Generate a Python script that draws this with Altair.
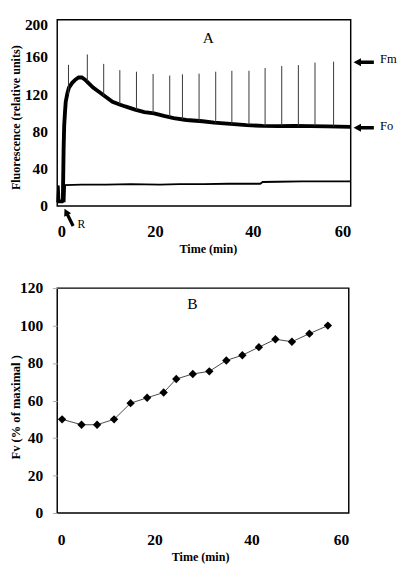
import altair as alt
import pandas as pd

SERIF = "Liberation Serif"

# ---------------- Panel A data ----------------
trace_t = [0, 0.5, 1.0, 1.15, 1.3, 1.42, 1.6, 1.74, 2.07, 2.4, 3.06, 3.71, 4.37,
           5.03, 5.69, 6.35, 7.33, 8.65, 9.96, 11.3, 12.6, 13.9, 15.9, 17.8,
           19.8, 21.8, 23.8, 26.4, 29.7, 32.1, 35.4, 38.7, 42.0, 45.2, 48.5,
           51.8, 55.1, 60]
trace_v = [5, 5, 5, 6, 60, 86, 102, 112, 121, 127.2, 132.3, 135.7, 138,
           138, 135.7, 132.3, 127.2, 122.1, 117, 112, 109.3, 106.9, 103.6, 100.8,
           99.5, 96.8, 94.4, 92.4, 91, 89.5, 88.2, 86.8, 86.1, 85.8, 86.1,
           85.8, 85.5, 85]

low_t = [0, 0.15, 0.3, 0.45, 0.6, 1.5, 1.6, 5, 10, 15, 21, 25, 30, 35, 41.5,
         42, 45, 50, 55, 60]
low_v = [4, 18, 22, 6, 5, 5, 22.5, 23, 23, 23.5, 23, 23.5, 23.5, 24, 24,
         25.8, 26, 26.5, 26.5, 26.5]

spike_t = [2.3, 6.15, 9.5, 12.8, 16.2, 19.6, 23.0, 25.6, 29.0, 32.4, 35.7,
           39.2, 42.5, 45.9, 49.3, 52.7, 56.5]
spike_base = [120, 134, 118, 109, 103, 99.5, 95.5, 93, 91, 89.5, 88, 87, 86,
              86, 86, 86, 85.5]
spike_top = [151.6, 162.7, 152.6, 145.9, 144.2, 141.8, 140.1, 141.4, 142.1,
             144.2, 145.2, 145.2, 148.2, 150.3, 151.3, 154, 155]

a_ticks_x = [0, 20, 40, 60]
a_ticks_y = [0, 40, 80, 120, 160, 200]

# annotations of panel A (data units)
arrow_labels = ["Fm", "Fo"]
arrow_label_y = [157.7, 86.3]
arrow_y = [154.3, 84.0]

# ---------------- Panel B data ----------------
b_time = [1.0, 5.0, 8.2, 11.7, 15.1, 18.5, 21.9, 24.5, 27.9, 31.3, 34.8,
          38.1, 41.5, 44.9, 48.3, 51.9, 55.7]
b_fv = [50.0, 47.1, 47.1, 50.0, 58.6, 61.5, 64.3, 71.5, 74.2, 75.6, 81.4,
        84.2, 88.5, 92.7, 91.4, 95.7, 100.0]
b_ticks_x = [0, 20, 40, 60]
b_ticks_y = [0, 20, 40, 60, 80, 100, 120]

ARROW = "M-1,0L-0.27,-0.4L-0.27,-0.17L1,-0.17L1,0.17L-0.27,0.17L-0.27,0.4Z"

HA = 193
xsA = alt.Scale(domain=[0, 60], nice=False, zero=False)
ysA = alt.Scale(domain=[0, 200], nice=False, zero=False)

df_trace = pd.DataFrame({"t": trace_t, "v": trace_v})
df_low = pd.DataFrame({"t": low_t, "v": low_v})
df_spk = pd.DataFrame({"t": spike_t, "v": spike_base, "top": spike_top})

axA_x = alt.Axis(values=a_ticks_x, title="Time (min)", ticks=False, tickSize=0,
                 domain=False, grid=False, labelFont=SERIF,
                 labelFontWeight="bold", labelFontSize=17, labelColor="black",
                 labelPadding=19, titleFont=SERIF, titleFontWeight="bold",
                 titleFontSize=12.5, titleColor="black", titleX=156, titleY=38,
                 titleAlign="center", titleBaseline="top")
axA_y = alt.Axis(values=a_ticks_y, title="Fluorescence (relative  units)",
                 ticks=False, tickSize=0, domain=False, grid=False,
                 labelFont=SERIF, labelFontWeight="bold",
                 labelFontSize=16, labelColor="black", labelPadding=10,
                 labelOffset={"condition": {"test": "datum.value == 200",
                                            "value": 5}, "value": 0},
                 titleFont=SERIF, titleFontWeight="bold", titleFontSize=12.5,
                 titleColor="black", titleX=-43.5, titleY=101,
                 titleAlign="center", titleBaseline="middle")

XA = alt.X("t:Q", scale=xsA, axis=axA_x)
YA = alt.Y("v:Q", scale=ysA, axis=axA_y)

trace = alt.Chart(df_trace).mark_line(color="black", strokeWidth=4).encode(
    x=XA, y=YA)
low = alt.Chart(df_low).mark_line(color="black", strokeWidth=2).encode(
    x=XA, y=YA)
spikes = alt.Chart(df_spk).mark_rule(color="#333", strokeWidth=1).encode(
    x=XA, y=YA, y2="top:Q")
df_lbl = pd.DataFrame({"t": [30.9], "v": [180.5], "s": ["A"]})
lblA = alt.Chart(df_lbl).mark_text(font=SERIF, fontSize=16, color="black",
                                   baseline="middle").encode(
    x=XA, y=YA, text="s:N")
df_arr = pd.DataFrame({"t": [62.66, 62.66], "v": arrow_y})
arrows = alt.Chart(df_arr).mark_point(shape=ARROW, size=441, filled=True,
                                      color="black", opacity=1).encode(
    x=XA, y=YA)
df_arrtxt = pd.DataFrame({"t": [66.0, 66.0], "v": arrow_label_y,
                          "s": arrow_labels})
arrtxt = alt.Chart(df_arrtxt).mark_text(font=SERIF, fontSize=13, color="black",
                                        align="left", baseline="middle").encode(
    x=XA, y=YA, text="s:N")
df_r = pd.DataFrame({"t": [2.37], "v": [-12.2]})
rarrow = alt.Chart(df_r).mark_point(shape=ARROW, size=400, filled=True,
                                    color="black", opacity=1,
                                    angle=63.4).encode(x=XA, y=YA)
df_rt = pd.DataFrame({"t": [4.93], "v": [-19.3], "s": ["R"]})
rtext = alt.Chart(df_rt).mark_text(font=SERIF, fontSize=12, color="black",
                                   baseline="middle").encode(
    x=XA, y=YA, text="s:N")

panelA = alt.layer(trace, low, spikes, lblA, arrows, arrtxt, rarrow,
                   rtext).properties(width=304, height=HA)

# ---------------- Panel B ----------------
xsB = alt.Scale(domain=[0, 60], nice=False, zero=False)
ysB = alt.Scale(domain=[0, 120], nice=False, zero=False)
df_b = pd.DataFrame({"t": b_time, "fv": b_fv})

axB_x = alt.Axis(values=b_ticks_x, title="Time (min)", ticks=False, tickSize=0,
                 domain=False, grid=False, labelFont=SERIF,
                 labelFontWeight="bold", labelFontSize=16, labelColor="black",
                 labelPadding=20, titleFont=SERIF, titleFontWeight="bold",
                 titleFontSize=12.5, titleColor="black", titleX=148, titleY=39,
                 titleAlign="center", titleBaseline="top")
axB_y = alt.Axis(values=b_ticks_y, title="Fv (% of maximal )", ticks=True,
                 tickSize=5, tickColor="#aaaaaa", domain=False, grid=False,
                 labelFont=SERIF, labelFontWeight="bold", labelFontSize=16,
                 labelColor="black", labelPadding=10, titleFont=SERIF,
                 titleFontWeight="bold", titleFontSize=13, titleColor="black",
                 titleX=-43, titleY=123, titleAlign="center",
                 titleBaseline="middle")

XB = alt.X("t:Q", scale=xsB, axis=axB_x)
YB = alt.Y("fv:Q", scale=ysB, axis=axB_y)

lineB = alt.Chart(df_b).mark_line(color="#444", strokeWidth=1).encode(
    x=XB, y=YB)
ptsB = alt.Chart(df_b).mark_point(shape="diamond", size=75, filled=True,
                                  color="black", opacity=1).encode(
    x=XB, y=YB)
df_lb = pd.DataFrame({"t": [27.8], "fv": [111.2], "s": ["B"]})
lblB = alt.Chart(df_lb).mark_text(font=SERIF, fontSize=16, color="black",
                                  baseline="middle").encode(
    x=XB, y=YB, text="s:N")
panelB = alt.layer(lineB, ptsB, lblB).properties(width=302, height=233)

chart = alt.vconcat(panelA, panelB, spacing=24).properties(
    padding={"left": 0, "top": -2, "right": 0, "bottom": 0},
    background="white",
).configure_view(stroke="black", strokeWidth=1.5)

chart.save("out.html", embed_options={"renderer": "svg", "actions": False})
